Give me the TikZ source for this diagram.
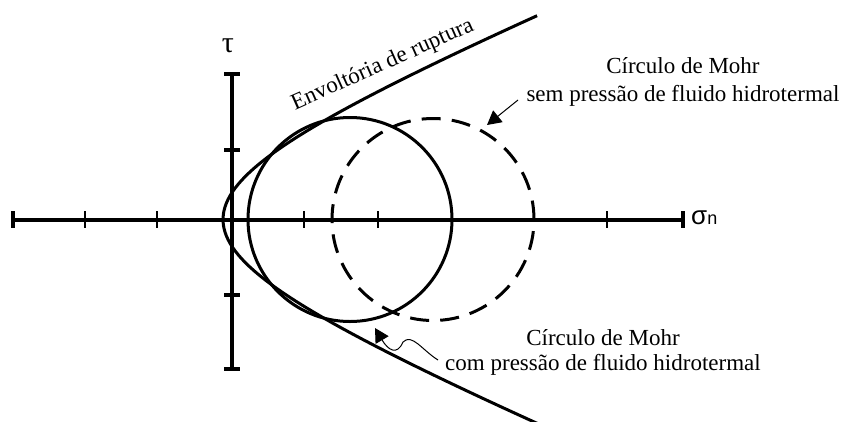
\documentclass[tikz,border=0pt]{standalone}
\usepackage{fontspec}
\setmainfont{Liberation Serif}
\newfontfamily\sigmafont{Liberation Sans}
\usetikzlibrary{arrows.meta}

\begin{document}
\begin{tikzpicture}[
    x=1pt, y=-1pt,
    axisline/.style={line width=4pt},
    tickmark/.style={line width=2pt},
    capmark/.style={line width=3.5pt},
    curve/.style={line width=3pt},
    pointer/.style={line width=1pt, -{Triangle[length=14pt, width=15pt]}},
    lbl/.style={font=\fontsize{23}{28}\selectfont, align=center, inner sep=0pt},
  ]
    \useasboundingbox (0,0) rectangle (843,421);
    % Axes with ticks
    \draw[axisline] (13,219.5) -- (683,219.5);
    \draw[axisline] (232,74) -- (232,369);
    \foreach \x in {13,683}
      \draw[capmark] (\x,211) -- (\x,228);
    \foreach \x in {85,157,304,378,607}
      \draw[tickmark] (\x,211) -- (\x,228);
    \foreach \y in {74,150,295,369}
      \draw[capmark] (224,\y) -- (240,\y);
    \node[font=\fontsize{30}{30}\selectfont, inner sep=0pt] (taulbl) at (228,46) {τ};
    \node[anchor=base west, inner sep=0pt] (sigmalbl) at (691,224)
      {\sigmafont{\fontsize{26}{26}\selectfont σ}{\fontsize{18}{18}\selectfont n}};

    % Failure envelope and Mohr circles
    \draw[curve, domain=-1.49:1.49, samples=80, variable=\t]
      plot ({-13+236*cosh(\t)}, {219.5-96.8*sinh(\t)});
    \draw[curve] (350,219.5) circle[radius=102pt];
    \draw[curve, dash pattern=on 19pt off 11.2pt] (433,219.5) circle[radius=101pt];

    % Labels
    \node[lbl, rotate=24, anchor=base] (envlbl) at (385,70) {Envoltória de ruptura};
    \node[lbl] (semlbl) at (683,82)
      {Círculo de Mohr\\sem pressão de fluido hidrotermal};
    \node[lbl, font=\fontsize{23}{25}\selectfont] (comlbl) at (603,352)
      {Círculo de Mohr\\com pressão de fluido hidrotermal};

    \coordinate (semtail) at (518,100);
    \coordinate (semtip) at (487,125);
    \coordinate (comtail) at (438,360);
    \coordinate (comtip) at (375,328);
    \draw[pointer] (semtail) -- (semtip);
    \draw[pointer] (comtail) .. controls (422,350) and (412,333) .. (403,342)
      .. controls (397,356) and (388,350) .. (comtip);
\end{tikzpicture}
\end{document}
